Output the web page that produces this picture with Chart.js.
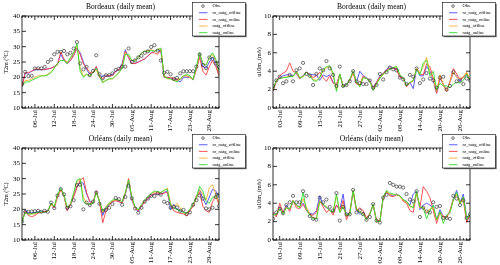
<!DOCTYPE html>
<html>
<head>
<meta charset="utf-8">
<script src="https://cdn.jsdelivr.net/npm/chart.js@4"></script>
<style>
  html, body { margin: 0; padding: 0; background: #fff; }
  #wrap { position: relative; width: 500px; height: 265px; overflow: hidden; }
  canvas { position: absolute; }
</style>
</head>
<body>
<div id="wrap">
  <canvas id="bdxT" width="250" height="132" style="left:0;top:0"></canvas>
  <canvas id="bdxU" width="250" height="132" style="left:250px;top:0"></canvas>
  <canvas id="orlT" width="250" height="132" style="left:0;top:132px"></canvas>
  <canvas id="orlU" width="250" height="132" style="left:250px;top:132px"></canvas>
</div>
<script>
// series shared by all four panels
const seriesNames = ['Obs.', 'ro_natg_offline', 'ro_natg_online', 'natg_offline', 'natg_online'];
const seriesColors = ['#3a3a3a', '#4a4aff', '#ff4040', '#ffb030', '#30dc30'];

// x axis: day index (T2m starts 02-Jul, u10m starts 01-Jul)
const tempDays = Array.from({length: 62}, (_, i) => i);
const windDays = Array.from({length: 60}, (_, i) => i);
const tempTickDays = [4, 10, 16, 22, 28, 34, 40, 46, 52, 58];
const tempTickLabels = ['06-Jul', '12-Jul', '18-Jul', '24-Jul', '30-Jul', '05-Aug', '11-Aug', '17-Aug', '23-Aug', '29-Aug'];
const windTickDays = [2, 8, 14, 20, 26, 32, 38, 44, 50, 56];
const windTickLabels = ['03-Jul', '09-Jul', '15-Jul', '21-Jul', '27-Jul', '02-Aug', '08-Aug', '14-Aug', '20-Aug', '26-Aug'];

// Bordeaux T2m
const bdxTObs = [17.8, 21.8, 20.4, 20.5, 22.9, 22.9, 22.9, 23.4, 25.0, 25.8, 27.5, 28.3, 28.3, 28.6, 27.5, 28.0, 29.4, 31.5, 24.5, 22.6, 23.4, 20.7, 22.1, 27.2, 21.0, 19.7, 20.7, 20.7, 21.3, 22.4, 22.8, 23.5, 23.5, 29.4, 25.0, 25.5, 26.5, 27.0, 28.0, 28.5, 29.9, 30.5, 28.7, 25.5, 21.5, 21.8, 21.0, 19.5, 19.8, 21.3, 22.0, 22.0, 22.0, 22.0, 23.5, 27.5, 24.0, 23.0, 26.5, 26.0, 24.5, 23.4];
const bdxTRoOff = [17, 21.5, 21.3, 22, 22.5, 22.5, 22.5, 22.5, 22.7, 23, 23.5, 24.5, 27.5, 25.5, 24.5, 25.5, 27.5, 29.5, 28, 25, 22.5, 21, 21.5, 23.5, 20, 20.5, 20.5, 20.5, 21, 22, 22.5, 24.5, 29, 26.5, 24.5, 24.5, 25, 25.5, 26, 27, 28, 28.5, 29, 28.5, 20, 20, 19.7, 19.5, 19, 18.5, 20, 20, 20, 19.2, 23, 27.5, 23.5, 23, 25, 26.5, 24.5, 20.5];
const bdxTRoOn = [17, 21.5, 21.5, 22, 22.7, 22.7, 22.5, 22.5, 22.8, 23, 23.5, 24, 28.3, 26, 24.5, 25.5, 27, 29.5, 27.5, 24.5, 23, 21.5, 21.5, 23.5, 20.5, 19.5, 20.5, 20.5, 20.5, 22, 22.5, 24, 28.5, 26.5, 24.5, 24.5, 25, 25.5, 26, 27, 28, 28, 27.5, 29, 20, 20, 20, 19.5, 19.5, 19.3, 20.5, 20.5, 20, 19.3, 22.5, 26.5, 22, 20.7, 23.5, 25.5, 23.5, 20.5];
const bdxTOff = [17, 19, 19, 19.5, 20, 20.5, 20.5, 20.5, 21, 21.8, 23, 24.5, 25.5, 25.5, 25, 26, 28, 30.5, 23, 20.5, 21, 20.5, 21.5, 22.5, 20, 18.5, 19, 19.5, 19.5, 20.5, 21.5, 23, 28, 27, 25.5, 25.5, 26.5, 28, 28.5, 28.7, 29, 28.5, 29, 29.5, 20.5, 19.5, 19.5, 19, 19, 19.5, 20.5, 20.5, 20, 19.3, 23, 28, 24.5, 24, 26.5, 27.5, 25.5, 21];
const bdxTOn = [17, 18.5, 18.5, 19, 19.5, 20, 20.5, 20.5, 20.8, 21.5, 23, 24.5, 25.5, 25.5, 24.5, 26.5, 28, 31, 22, 20, 21, 20.5, 21.5, 23, 20.5, 18.2, 19, 19.5, 19.5, 20.5, 21.5, 23, 27.5, 27.5, 25.5, 25.5, 26.5, 28, 28.5, 28.5, 28.7, 28.5, 29, 29.5, 20.3, 19.7, 19.5, 19, 18.5, 19.5, 20.5, 21, 20.5, 19.3, 23.5, 28, 24.5, 24, 26.5, 28, 26, 22];

// Bordeaux u10m
const bdxUObs = [2.4, 3.0, 3.4, 2.7, 2.9, 3.6, 2.9, 4.1, 4.3, 4.9, 3.7, 3.5, 2.5, 3.7, 4.3, 4.1, 5.1, 4.3, 3.6, 2.4, 4.5, 2.4, 2.5, 2.9, 4.0, 2.9, 2.7, 2.6, 2.6, 3.0, 2.2, 2.5, 3.7, 3.1, 3.9, 4.4, 4.2, 4.1, 3.3, 3.1, 2.6, 3.6, 3.4, 4.3, 2.7, 3.1, 3.8, 3.2, 3.0, 2.2, 3.3, 3.4, 2.0, 2.4, 3.9, 2.9, 3.0, 2.6, 3.2, 3.0];
const bdxURoOff = [1.9, 3.0, 3.3, 3.5, 3.6, 3.6, 3.5, 3.8, 3.2, 3.5, 3.9, 3.7, 3.6, 3.6, 3.0, 3.6, 3.4, 3.6, 2.8, 2.5, 3.7, 2.4, 2.6, 3.0, 4.0, 2.8, 4.0, 3.5, 3.3, 3.0, 2.2, 2.8, 3.5, 3.7, 4.2, 4.5, 4.3, 4.3, 3.4, 3.2, 2.5, 2.8, 2.1, 4.3, 3.5, 3.5, 4.5, 4.0, 3.0, 1.6, 3.2, 2.6, 2.0, 2.8, 3.8, 3.5, 2.9, 3.4, 3.6, 3.0];
const bdxURoOn = [1.8, 2.9, 3.5, 3.8, 4.0, 4.9, 4.0, 3.8, 3.2, 3.5, 3.9, 3.6, 3.3, 3.5, 3.9, 3.3, 2.9, 3.5, 2.7, 2.5, 3.7, 2.3, 2.5, 3.0, 3.8, 2.6, 2.5, 3.5, 3.2, 3.0, 2.1, 2.8, 3.4, 3.8, 4.1, 4.3, 4.3, 4.2, 3.3, 3.3, 2.3, 2.7, 3.0, 4.3, 3.7, 3.6, 4.8, 4.5, 3.2, 1.6, 3.5, 2.5, 1.8, 2.9, 4.3, 3.7, 3.1, 3.3, 3.8, 3.0];
const bdxUOff = [2.0, 3.0, 3.2, 3.3, 3.4, 3.5, 3.4, 4.0, 3.3, 3.4, 3.9, 3.6, 3.1, 3.0, 3.3, 4.0, 4.4, 4.5, 3.6, 2.0, 3.7, 2.4, 2.5, 3.1, 4.0, 2.8, 2.4, 3.3, 3.2, 2.9, 2.0, 2.6, 3.3, 3.6, 4.0, 4.3, 4.4, 4.5, 3.6, 3.2, 2.4, 2.8, 2.9, 4.3, 3.8, 4.5, 5.5, 3.8, 3.3, 1.8, 3.6, 2.6, 1.9, 2.8, 3.9, 3.3, 3.2, 3.4, 3.9, 3.1];
const bdxUOn = [2.0, 3.0, 3.2, 3.3, 3.3, 3.4, 3.4, 4.0, 3.3, 3.4, 3.9, 3.5, 3.0, 2.9, 3.3, 4.2, 4.5, 4.6, 3.8, 1.8, 3.7, 2.3, 2.5, 3.1, 4.0, 2.8, 2.3, 3.3, 3.2, 2.9, 1.9, 2.6, 3.2, 3.7, 4.0, 4.2, 4.4, 4.5, 3.6, 3.3, 2.4, 2.8, 3.0, 4.2, 3.6, 4.9, 5.2, 3.5, 4.0, 2.0, 2.7, 2.4, 2.4, 2.2, 2.6, 2.8, 2.7, 3.0, 3.7, 3.0];

// Orléans T2m
const orlTObs = [16, 19.2, 19.2, 19.3, 19.4, 19.5, 19.2, 19.5, 19.2, 22.2, 20.4, 24.5, 26.6, 24.9, 20.5, 21, 23, 27.9, 28, 20, 22.2, 21.4, 22.5, 25.5, 21.8, 19.5, 19.8, 20.5, 21.7, 23.7, 23.3, 21.5, 24, 27.7, 23.6, 20.3, 18.9, 20.5, 22.5, 23.5, 24.4, 24.3, 25.2, 24.8, 22.5, 22, 20.5, 20.9, 20.6, 19.5, 19.8, 18.5, 19, 21.5, 23, 24.5, 23.5, 20.3, 20, 20.5, 24, 21];
const orlTRoOff = [16, 19.5, 19, 18.8, 19, 19.2, 19.2, 19.3, 19.5, 21.8, 20.5, 24.5, 26.5, 24.5, 19.8, 21.5, 24.5, 27.5, 29, 28.5, 25, 22.5, 22.3, 25.8, 22.5, 18, 20.5, 21.5, 22.5, 23, 22.5, 22, 25, 29, 23, 20.5, 19.2, 21, 22.5, 23.5, 24.5, 25, 25, 25, 25.5, 26, 20, 21.5, 20, 19.5, 19, 18.5, 20, 21.5, 23.5, 26.5, 23.5, 21.5, 24, 26.5, 26, 24];
const orlTRoOn = [16, 19.5, 18, 17.6, 18, 18.8, 19, 19.3, 19.5, 21.8, 20.5, 24, 26.3, 24.5, 19.5, 21.5, 24, 27, 29.5, 30.3, 25.5, 22.5, 22, 26, 22.5, 15.6, 19.5, 21.5, 22.5, 22.8, 22.5, 22, 25, 30, 23.5, 20.5, 19.5, 21, 22.5, 23.5, 24.5, 25.2, 25, 25, 25.3, 25.5, 21.5, 19.5, 19, 18.7, 18.5, 17.8, 19.5, 21, 24.5, 25.5, 21, 19.5, 19, 22.5, 24.5, 21.5];
const orlTOff = [16, 19, 18.5, 18.5, 18.5, 19, 19, 19, 19.5, 21.5, 20.8, 24.5, 26.5, 24.5, 20.5, 21.8, 25, 29, 30, 24, 22, 21.5, 22.5, 25.5, 22.5, 19, 21, 22, 22.8, 23, 23, 22.5, 25.5, 29.5, 24, 20.5, 19.8, 21.5, 23, 24, 25, 25.7, 25.5, 25.5, 26, 27, 22, 20.5, 22, 20.5, 19, 18.5, 20, 21.5, 23.5, 26.5, 25, 23, 27, 28, 25, 22];
const orlTOn = [15.8, 19, 18.5, 18.5, 18.8, 19, 19.2, 19, 19.5, 22, 21, 25, 26.8, 24.8, 20.5, 21.5, 25.5, 29.5, 30, 22.5, 21.8, 21.5, 22, 25.5, 22.5, 19.5, 20.5, 22, 23, 23.3, 23, 22.5, 25.5, 29.5, 24, 21, 19.8, 21.5, 23, 24.2, 25.2, 26, 25.8, 25.5, 26.3, 26.5, 21.5, 20.3, 20, 19.5, 19, 18.8, 20, 21.8, 24, 27.5, 26, 22.5, 22, 24, 24, 25];

// Orléans u10m
const orlUObs = [2.3, 3.0, 3.4, 2.9, 3.8, 4.1, 4.8, 4.1, 4.1, 5.3, 4.8, 2.6, 2.3, 2.2, 4.6, 4.1, 4.4, 3.6, 3.2, 5.1, 2.1, 3.6, 2.8, 2.8, 5.45, 3.0, 3.2, 2.8, 2.2, 2.5, 3.9, 2.1, 1.9, 4.6, 4.9, 6.2, 6.0, 5.8, 5.8, 5.7, 5.0, 4.4, 4.2, 5.3, 2.5, 3.5, 3.1, 3.0, 4.1, 3.6, 3.7, 2.4, 2.4, 2.3, 4.8, 4.5, 3.8, 4.3, 2.4, 2.8];
const orlURoOff = [3.0, 2.6, 3.6, 3.0, 3.8, 3.3, 4.1, 3.8, 3.6, 4.0, 3.4, 2.9, 2.8, 3.2, 4.8, 3.8, 3.5, 3.3, 3.0, 3.8, 3.3, 5.0, 2.5, 3.0, 5.3, 3.2, 2.8, 3.0, 2.3, 2.8, 3.8, 2.1, 2.0, 4.5, 5.2, 4.9, 4.8, 5.0, 4.8, 4.3, 4.2, 3.8, 5.0, 5.3, 3.3, 3.8, 4.0, 3.8, 3.5, 2.2, 3.3, 2.5, 2.5, 3.1, 4.5, 5.4, 4.0, 5.0, 2.5, 2.7];
const orlURoOn = [3.0, 2.5, 4.0, 3.0, 3.6, 3.1, 4.3, 3.5, 3.4, 3.9, 3.2, 2.8, 2.7, 3.0, 4.3, 3.6, 3.0, 3.3, 2.7, 3.8, 3.2, 4.3, 2.2, 3.0, 5.3, 3.2, 3.5, 3.2, 2.4, 2.9, 3.8, 2.2, 2.0, 4.6, 5.3, 4.8, 4.7, 4.9, 4.8, 4.2, 4.0, 3.2, 3.0, 5.1, 3.5, 5.8, 5.3, 4.6, 3.2, 1.8, 3.0, 2.6, 2.4, 3.2, 4.4, 5.0, 4.2, 4.3, 1.9, 2.7];
const orlUOff = [2.8, 2.7, 3.5, 2.9, 3.5, 3.4, 4.2, 3.7, 3.6, 4.5, 3.6, 2.8, 2.4, 2.4, 4.2, 3.8, 3.6, 3.2, 3.0, 4.8, 3.0, 3.8, 2.6, 2.8, 5.4, 3.3, 3.1, 2.9, 2.2, 2.8, 3.9, 2.0, 2.0, 4.6, 5.2, 5.0, 4.9, 5.0, 4.7, 4.3, 4.1, 3.6, 3.6, 5.2, 3.5, 3.6, 3.0, 3.4, 3.5, 2.2, 3.0, 2.4, 2.6, 3.0, 4.4, 5.0, 3.9, 4.6, 2.3, 2.7];
const orlUOn = [2.7, 2.8, 3.4, 2.8, 3.5, 3.4, 4.3, 3.8, 3.5, 5.2, 3.3, 2.7, 2.3, 2.3, 4.2, 3.9, 3.6, 3.2, 3.0, 5.0, 3.0, 3.6, 2.7, 2.8, 5.4, 3.3, 3.0, 2.8, 2.2, 2.8, 3.9, 2.0, 2.0, 4.7, 5.4, 5.1, 5.0, 4.9, 4.8, 4.4, 4.2, 3.7, 3.5, 5.3, 3.6, 3.5, 2.3, 3.2, 3.8, 2.2, 3.1, 1.8, 2.7, 3.0, 4.3, 5.2, 4.0, 4.7, 2.3, 2.8];

Chart.defaults.font.family = '"Liberation Serif", "DejaVu Serif", serif';
Chart.defaults.color = '#000';

// grace-like frame: box, inward ticks on all sides, title and boxed legend
const framePlugin = {
    id: 'frame',
    afterDraw(chart, args, opts) {
        const { ctx, chartArea: a, scales: { x, y } } = chart;
        ctx.save();
        ctx.strokeStyle = '#000';
        ctx.lineWidth = 0.8;
        ctx.strokeRect(a.left, a.top, a.right - a.left, a.bottom - a.top);
        ctx.beginPath();
        for (let d = x.min; d <= x.max; d++) {
            const px = x.getPixelForValue(d);
            const len = opts.majorDays.includes(d) ? 4 : 2;
            ctx.moveTo(px, a.bottom); ctx.lineTo(px, a.bottom - len);
            ctx.moveTo(px, a.top); ctx.lineTo(px, a.top + len);
        }
        y.ticks.forEach(t => {
            const py = y.getPixelForValue(t.value);
            ctx.moveTo(a.left, py); ctx.lineTo(a.left + 4, py);
            ctx.moveTo(a.right, py); ctx.lineTo(a.right - 4, py);
        });
        ctx.stroke();

        ctx.fillStyle = '#000';
        ctx.font = '7.5px "Liberation Serif"';
        ctx.textAlign = 'center';
        ctx.textBaseline = 'middle';
        ctx.fillText(opts.title, (a.left + a.right) / 2, 7);

        const bx = 192.5, by = 2.5, bw = 53, bh = 33.5;
        ctx.fillStyle = '#6a6a6a';
        ctx.fillRect(bx + 1.2, by + 1.2, bw, bh);
        ctx.fillStyle = '#fff';
        ctx.fillRect(bx, by, bw, bh);
        ctx.lineWidth = 0.6;
        ctx.strokeRect(bx, by, bw, bh);
        ctx.font = '4.6px "Liberation Serif"';
        ctx.textAlign = 'left';
        chart.data.datasets.forEach((ds, k) => {
            const ry = by + 3.6 + k * 6.65;
            if (k === 0) {
                ctx.beginPath();
                ctx.arc(bx + 10.5, ry, 1.3, 0, Math.PI * 2);
                ctx.strokeStyle = ds.borderColor;
                ctx.lineWidth = 0.7;
                ctx.stroke();
            } else {
                ctx.beginPath();
                ctx.moveTo(bx + 6.5, ry); ctx.lineTo(bx + 15, ry);
                ctx.strokeStyle = ds.borderColor;
                ctx.lineWidth = 0.9;
                ctx.stroke();
            }
            ctx.fillStyle = '#000';
            ctx.fillText(ds.label, bx + 20, ry);
        });
        ctx.restore();
    }
};

function makePanel(id, title, yTitle, days, series, yMin, yMax, yStep, tickDays, tickLabels, axisWidth, rightPad, titlePad) {
    const datasets = series.map((vals, k) => ({
        label: seriesNames[k],
        data: vals,
        borderColor: seriesColors[k],
        backgroundColor: k === 0 ? 'rgba(0,0,0,0)' : seriesColors[k],
        borderWidth: k === 0 ? 0.7 : 0.9,
        showLine: k !== 0,
        pointRadius: k === 0 ? 1.6 : 0,
        tension: 0,
        order: k === 0 ? 0 : 5 - k
    }));
    new Chart(document.getElementById(id), {
        type: 'line',
        data: { labels: days, datasets },
        options: {
            responsive: false,
            animation: false,
            devicePixelRatio: 1,
            layout: { padding: { top: 16, right: rightPad, left: 0, bottom: 0 } },
            plugins: {
                legend: { display: false },
                tooltip: { enabled: false },
                frame: { title, majorDays: tickDays }
            },
            scales: {
                x: {
                    type: 'linear',
                    min: 0,
                    max: days.length - 1,
                    grid: { display: false, drawTicks: false },
                    border: { display: false },
                    afterBuildTicks: s => { s.ticks = tickDays.map(v => ({ value: v })); },
                    afterFit: s => { s.height = 24; },
                    ticks: {
                        autoSkip: false,
                        minRotation: 90,
                        maxRotation: 90,
                        padding: 2,
                        font: { size: 7 },
                        callback: (v, i) => tickLabels[i]
                    }
                },
                y: {
                    min: yMin,
                    max: yMax,
                    grid: { display: false, drawTicks: false },
                    border: { display: false },
                    afterFit: s => { s.width = axisWidth; },
                    ticks: { stepSize: yStep, padding: 2, font: { size: 7 } },
                    title: { display: true, text: yTitle, font: { size: 6 }, padding: { top: titlePad, bottom: 0 } }
                }
            }
        },
        plugins: [framePlugin]
    });
}

makePanel('bdxT', 'Bordeaux (daily mean)', 'T2m (°C)', tempDays,
    [bdxTObs, bdxTRoOff, bdxTRoOn, bdxTOff, bdxTOn], 10, 40, 5, tempTickDays, tempTickLabels, 22, 31, 3);
makePanel('bdxU', 'Bordeaux (daily mean)', 'u10m_(m/s)', windDays,
    [bdxUObs, bdxURoOff, bdxURoOn, bdxUOff, bdxUOn], 0, 10, 1, windTickDays, windTickLabels, 23, 30, 6);
makePanel('orlT', 'Orléans (daily mean)', 'T2m (°C)', tempDays,
    [orlTObs, orlTRoOff, orlTRoOn, orlTOff, orlTOn], 10, 40, 5, tempTickDays, tempTickLabels, 22, 31, 3);
makePanel('orlU', 'Orléans (daily mean)', 'u10m_(m/s)', windDays,
    [orlUObs, orlURoOff, orlURoOn, orlUOff, orlUOn], 0, 10, 1, windTickDays, windTickLabels, 23, 30, 6);
</script>
</body>
</html>
